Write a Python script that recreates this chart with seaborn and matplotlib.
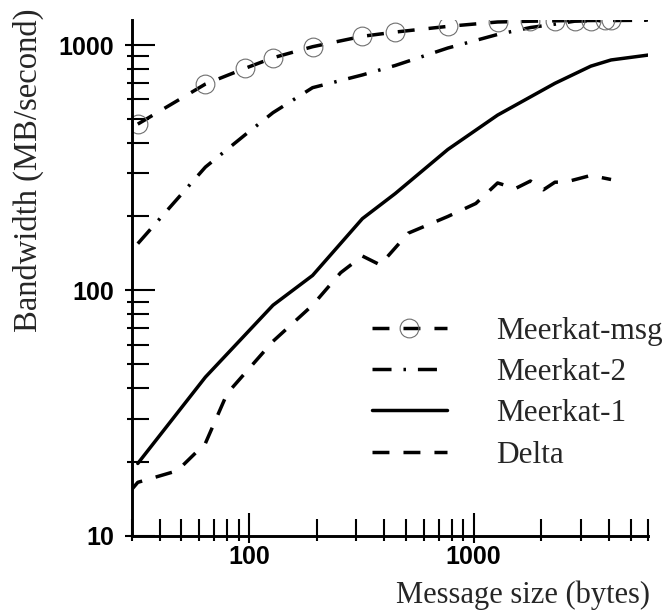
import matplotlib
matplotlib.use("Agg")
import matplotlib.pyplot as plt
from matplotlib.path import Path
from matplotlib.ticker import LogLocator, NullFormatter
import seaborn as sns

# ---------------- data ----------------
sizes_msg = [32, 64, 96, 128, 192, 320, 448, 768, 1280, 1792, 2304, 2816, 3328, 3840, 4096, 6000]
bw_msg = [476, 693, 803, 887, 984, 1085, 1129, 1191, 1241, 1250, 1255, 1258, 1258, 1260, 1260, 1265]

sizes_m2 = [32, 64, 96, 128, 192, 320, 448, 768, 1280, 1792, 2304, 2816, 3328, 4096, 6000]
bw_m2 = [155, 318, 430, 530, 670, 755, 825, 972, 1104, 1178, 1216, 1250, 1255, 1258, 1262]

sizes_m1 = [32, 64, 128, 192, 320, 448, 768, 1280, 2304, 3328, 4096, 6000]
bw_m1 = [19.7, 44.3, 87, 115, 196, 248, 375, 518, 698, 820, 869, 910]

sizes_delta = [24, 32, 48, 64, 80, 128, 192, 256, 320, 384, 512, 768, 1024, 1280,
               1536, 1792, 2048, 2304, 2560, 3328, 4096]
bw_delta = [12.1, 16.5, 18.4, 23.8, 38, 62, 87, 118, 138, 127, 171, 200, 226, 274,
            260, 279, 257, 276, 276, 294, 283]

series_labels = ["Meerkat-msg", "Meerkat-2", "Meerkat-1", "Delta"]
x_ticks = [100, 1000]
x_tick_labels = ["100", "1000"]
y_ticks = [10, 100, 1000]
y_tick_labels = ["10", "100", "1000"]
x_label = "Message size (bytes)"
y_label = "Bandwidth (MB/second)"

# ---------------- style ----------------
sns.set_style("white")
plt.rcParams["lines.scale_dashes"] = False
plt.rcParams["font.family"] = ["Liberation Serif", "DejaVu Serif"]

W, H = 665, 614
fig = plt.figure(figsize=(W / 100, H / 100), dpi=100)
L, R, T, B = 131.5, 648.3, 19.7, 535.7
ax = fig.add_axes([L / W, 1 - B / H, (R - L) / W, (B - T) / H])

LW = 2.5
dash = (0, (12.2, 10.1))
dashdot = (0, (13.7, 8.6, 1.8, 8.6))

sns.lineplot(x=sizes_m1, y=bw_m1, ax=ax, color="black", lw=LW, linestyle="-",
             label=series_labels[2], errorbar=None, estimator=None)
sns.lineplot(x=sizes_delta, y=bw_delta, ax=ax, color="black", lw=LW, linestyle=dash,
             label=series_labels[3], errorbar=None, estimator=None)
sns.lineplot(x=sizes_m2, y=bw_m2, ax=ax, color="black", lw=LW, linestyle=dashdot,
             label=series_labels[1], errorbar=None, estimator=None)
sns.lineplot(x=sizes_msg, y=bw_msg, ax=ax, color="black", lw=LW, linestyle=dash,
             marker="o", markevery=slice(0, len(sizes_msg) - 1), markersize=13.5,
             markerfacecolor="none", markeredgecolor="#6f6f6f", markeredgewidth=0.8,
             label=series_labels[0], errorbar=None, estimator=None)

ax.set_xscale("log")
ax.set_yscale("log")
ax.set_xlim(30, 6000)
ax.set_ylim(10, 1268)

ax.set_xticks(x_ticks, labels=x_tick_labels)
ax.set_yticks(y_ticks, labels=y_tick_labels)
ax.xaxis.set_minor_locator(LogLocator(base=10, subs=range(2, 10)))
ax.yaxis.set_minor_locator(LogLocator(base=10, subs=range(2, 10)))
ax.xaxis.set_minor_formatter(NullFormatter())
ax.yaxis.set_minor_formatter(NullFormatter())

ax.tick_params(axis="both", which="both", direction="in", color="black", width=1.5,
               bottom=True, left=True, top=False, right=False)
ax.tick_params(axis="y", which="major", length=16.8, pad=12.5, labelsize=18)
ax.tick_params(axis="y", which="minor", length=12.0)
ax.tick_params(axis="x", which="major", length=16.6, pad=7, labelsize=18)
ax.tick_params(axis="x", which="minor", length=12.5)
for t in ax.get_xticklabels() + ax.get_yticklabels():
    t.set_fontfamily(["Liberation Sans", "DejaVu Sans"])
    t.set_fontweight("bold")
    t.set_color("black")


def tick_marker(axis, out_frac):
    if axis == "x":
        verts = [(0, -out_frac), (0, 1)]
    else:
        verts = [(-out_frac, 0), (1, 0)]
    return Path(verts, [Path.MOVETO, Path.LINETO])


for axis_obj, name in ((ax.xaxis, "x"), (ax.yaxis, "y")):
    for ticks, length in ((axis_obj.get_major_ticks(), 16.7), (axis_obj.get_minor_ticks(), 12.2)):
        for t in ticks:
            t.tick1line.set_marker(tick_marker(name, 0.3))
            t.tick1line.set_markersize(2 * length)

for s in ("top", "right"):
    ax.spines[s].set_visible(False)
for s in ("left", "bottom"):
    ax.spines[s].set_linewidth(2.1)
    ax.spines[s].set_color("black")
    ax.spines[s].set_capstyle("projecting")

# legend
handles = {l.get_label(): l for l in ax.get_lines()}
leg = ax.legend([handles[k] for k in series_labels], series_labels,
                loc="upper left", bbox_to_anchor=(372 / W, 1 - 317 / H),
                bbox_transform=fig.transFigure, frameon=False, fontsize=22.5,
                handlelength=2.4, handletextpad=1.57, labelspacing=0.39,
                borderpad=0, borderaxespad=0, numpoints=1)

# axis labels
ax.set_xlabel(x_label, fontsize=22)
ax.xaxis.label.set_horizontalalignment("right")
ax.xaxis.label.set_verticalalignment("top")
ax.xaxis.set_label_coords((650 - L) / (R - L), (B - 581) / (B - T))

ax.set_ylabel(y_label, fontsize=23.5)
ax.yaxis.label.set_rotation_mode("anchor")
ax.yaxis.label.set_horizontalalignment("right")
ax.yaxis.label.set_verticalalignment("center")
ax.yaxis.set_label_coords((28 - L) / (R - L), (B - 9) / (B - T))

fig.savefig("out.png", dpi=100)
